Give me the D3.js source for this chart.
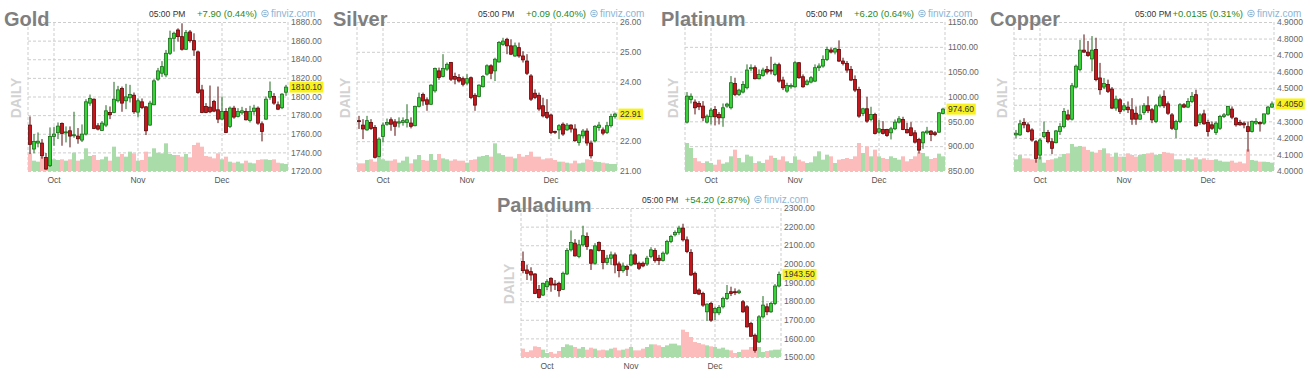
<!DOCTYPE html>
<html><head><meta charset="utf-8">
<script src="https://cdn.jsdelivr.net/npm/d3@7"></script>
<style>
body{margin:0;background:#fff;}
svg{display:block;font-family:Arial,"Liberation Sans",sans-serif;}
</style></head><body>
<svg id="chart" width="1310" height="378"></svg>
<script>
// ---------- shared ----------
const months = ["Oct", "Nov", "Dec"];
const monthStartIndex = [6, 27, 48];
const timeLabel = "05:00 PM";

// ---------- Gold ----------
const goldTicks = [1720, 1740, 1760, 1780, 1800, 1820, 1840, 1860, 1880];
const goldOpen = [1769.3,1743.6,1750.0,1750.0,1734.6,1725.7,1757.1,1761.1,1771.1,1761.1,1763.2,1758.0,1757.5,1753.2,1759.6,1792.9,1797.1,1768.6,1763.6,1769.3,1782.9,1782.9,1795.4,1808.6,1795.4,1798.6,1801.4,1783.2,1794.3,1788.9,1769.3,1791.1,1818.6,1825.0,1823.2,1846.4,1862.5,1871.4,1864.3,1850.7,1869.3,1860.0,1847.9,1807.1,1789.3,1788.6,1794.6,1785.7,1775.7,1783.9,1767.9,1787.5,1778.6,1782.5,1783.9,1774.3,1783.9,1787.5,1770.7,1775.7,1799.3,1800.0,1791.1,1787.9,1804.6];
const goldHigh = [1778.6,1759.6,1761.4,1754.3,1739.3,1766.8,1767.5,1772.1,1772.1,1767.9,1767.9,1783.6,1766.1,1770.0,1797.1,1802.1,1797.9,1771.4,1773.6,1790.7,1789.3,1815.7,1811.4,1810.7,1813.6,1812.5,1804.3,1797.9,1797.9,1789.6,1795.4,1818.6,1830.7,1838.0,1850.0,1870.7,1869.6,1873.2,1878.6,1871.4,1871.4,1867.9,1849.3,1812.5,1792.9,1811.8,1796.4,1810.7,1800.0,1787.5,1789.3,1790.0,1787.5,1788.9,1787.5,1790.0,1791.1,1789.3,1773.2,1800.0,1816.1,1803.6,1794.6,1803.6,1812.5];
const goldLow = [1738.2,1739.0,1745.4,1733.2,1721.4,1724.3,1747.1,1754.3,1747.1,1750.7,1745.4,1755.7,1749.3,1751.1,1758.2,1790.0,1765.0,1763.6,1763.2,1767.1,1775.7,1782.1,1793.6,1783.6,1786.4,1793.6,1781.4,1777.5,1786.4,1758.6,1768.6,1790.7,1816.8,1821.0,1820.7,1844.6,1848.2,1858.9,1849.3,1850.0,1857.9,1843.6,1802.9,1782.1,1782.1,1782.1,1783.2,1771.4,1775.0,1760.7,1766.1,1776.1,1777.5,1780.4,1774.3,1772.1,1780.4,1769.6,1751.8,1775.0,1796.4,1791.1,1785.4,1786.4,1800.7];
const goldClose = [1748.6,1751.8,1752.0,1736.4,1722.1,1757.1,1759.6,1768.2,1760.4,1762.0,1757.5,1758.9,1754.6,1759.6,1794.3,1797.9,1765.7,1765.0,1771.4,1784.6,1780.4,1797.1,1807.1,1792.9,1799.6,1802.1,1783.6,1795.4,1788.2,1763.2,1792.9,1816.8,1827.5,1832.1,1846.4,1862.5,1867.9,1864.3,1850.7,1868.6,1860.0,1850.0,1804.3,1782.9,1782.9,1783.6,1784.3,1775.7,1783.9,1761.4,1787.5,1777.9,1783.9,1784.6,1775.0,1783.9,1787.5,1771.4,1762.5,1797.1,1805.4,1792.9,1786.4,1802.5,1810.1];
const goldVolume = [53,31,28,43,35,35,35,33,35,31,35,55,31,35,68,45,48,33,35,43,31,73,43,51,43,58,53,31,33,58,43,68,55,53,83,51,48,48,43,51,41,78,85,73,45,43,38,53,35,43,28,25,28,23,31,25,23,33,35,35,33,35,25,23,21];

// ---------- Silver ----------
const silverTicks = [21, 22, 23, 24, 25, 26];
const silverOpen = [22.69,22.54,22.38,22.63,22.46,21.49,22.16,22.57,22.72,22.65,22.61,22.63,22.63,22.61,22.52,23.17,23.57,23.39,23.24,23.69,24.36,24.17,24.42,24.64,24.17,24.14,24.10,23.95,24.13,23.54,23.50,23.83,24.25,24.53,24.36,24.66,25.25,25.42,25.20,24.86,25.14,24.86,24.69,24.19,23.61,23.54,23.19,22.96,22.88,22.33,22.38,22.57,22.38,22.54,22.41,21.96,22.18,22.34,21.94,22.01,22.46,22.38,22.29,22.52,22.83];
const silverHigh = [22.85,22.74,22.85,22.74,22.54,22.13,22.63,22.76,22.80,22.74,22.80,22.80,23.24,22.80,23.19,23.63,23.63,23.47,23.91,24.47,24.47,24.92,24.64,24.66,24.30,24.25,24.17,24.25,24.17,23.61,23.91,24.22,24.58,24.58,24.80,25.36,25.47,25.47,25.42,25.31,25.31,25.02,24.92,24.25,23.74,23.63,23.46,23.41,22.92,22.35,22.57,22.63,22.61,22.57,22.57,22.24,22.41,22.43,22.02,22.54,22.65,22.46,22.65,22.92,22.96];
const silverLow = [22.41,22.07,22.35,22.38,21.42,21.46,21.96,22.52,22.35,22.18,22.46,22.52,22.46,22.43,22.50,23.13,23.19,23.02,23.21,23.63,24.06,24.14,24.36,24.02,23.91,23.97,23.84,23.88,23.41,23.02,23.47,23.80,24.20,24.08,24.02,24.64,25.20,24.92,24.89,24.83,24.80,24.64,24.22,23.35,23.41,23.02,22.80,22.74,22.24,22.24,22.07,22.18,22.35,22.29,21.98,21.85,22.09,21.85,21.42,21.96,22.35,22.20,22.24,22.46,22.76];
const silverClose = [22.67,22.41,22.69,22.43,21.46,22.07,22.54,22.63,22.57,22.50,22.65,22.69,22.72,22.50,23.17,23.46,23.35,23.24,23.88,24.44,24.14,24.44,24.58,24.08,24.08,24.02,23.91,24.10,23.47,23.21,23.88,24.17,24.53,24.28,24.75,25.31,25.36,25.20,24.92,25.20,24.86,24.73,24.28,23.41,23.47,23.08,22.85,22.80,22.29,22.30,22.52,22.24,22.54,22.41,22.02,22.21,22.34,21.94,21.51,22.50,22.54,22.27,22.52,22.83,22.91];
const silverVolume = [23,23,33,35,28,43,35,31,31,35,25,31,43,23,35,48,33,31,51,33,51,38,35,31,35,31,31,25,33,35,43,45,48,43,83,53,48,43,43,38,51,43,48,58,43,43,35,38,38,33,28,28,25,23,31,23,25,35,33,28,27,25,23,21,21];

// ---------- Platinum ----------
const platinumTicks = [850, 900, 950, 1000, 1050, 1100, 1150];
const platinumOpen = [948.4,994.1,988.7,986.0,980.7,948.4,959.2,973.9,963.9,957.1,980.7,977.3,1026.4,1004.2,1008.9,1017.6,1055.9,1058.0,1035.8,1042.5,1054.6,1053.2,1044.5,1064.0,1033.1,1010.9,1019.6,1019.6,1068.0,1039.8,1024.3,1029.0,1031.0,1058.0,1061.3,1074.7,1093.6,1089.5,1094.9,1071.4,1066.7,1054.6,1034.4,1014.3,965.9,975.3,953.8,963.9,928.2,933.6,933.6,926.9,935.0,948.4,953.8,933.6,936.9,926.9,913.5,906.7,926.9,930.3,926.9,928.2,965.9];
const platinumHigh = [1008.9,1006.2,994.1,990.7,990.7,963.9,977.3,980.7,968.6,986.0,987.4,1041.1,1037.8,1015.6,1031.0,1064.7,1064.7,1062.6,1054.6,1058.0,1061.3,1080.1,1068.0,1068.0,1039.8,1027.7,1026.4,1071.4,1069.4,1044.5,1034.4,1041.1,1064.7,1066.7,1082.8,1100.3,1098.3,1098.3,1113.0,1078.1,1071.4,1061.3,1042.5,1019.6,977.3,999.5,979.3,967.2,952.4,950.4,935.0,938.9,953.8,960.5,959.2,947.1,948.4,932.3,916.8,930.3,938.9,932.3,930.3,968.6,977.3];
const platinumLow = [945.7,986.0,963.9,972.6,950.4,945.7,943.7,941.7,943.7,939.0,977.3,973.9,1000.8,1000.8,1006.2,1014.3,1051.2,1034.4,1034.4,1039.8,1044.5,1044.5,1041.1,1027.7,1012.9,1007.5,1015.6,1017.6,1035.8,1017.6,1022.3,1026.4,1029.0,1051.2,1058.0,1071.4,1086.8,1084.8,1069.4,1062.6,1047.9,1031.0,1008.9,957.1,960.5,947.1,950.4,923.5,925.6,923.5,918.8,913.5,932.3,945.7,932.3,925.6,920.2,905.4,885.2,894.6,923.5,910.1,920.2,926.9,963.9];
const platinumClose = [1000.8,1000.5,977.3,979.3,957.1,960.5,972.6,959.2,957.1,977.3,984.7,1027.7,1004.2,1012.9,1024.3,1053.2,1058.0,1035.8,1044.5,1053.2,1049.2,1051.9,1064.7,1031.0,1017.6,1022.3,1022.3,1068.0,1037.8,1019.6,1031.0,1037.8,1058.0,1061.3,1074.7,1094.9,1089.5,1096.2,1071.4,1066.7,1053.2,1033.1,1012.9,960.5,975.3,950.4,963.9,925.6,935.0,925.6,921.5,935.0,948.4,955.1,933.6,926.9,921.5,908.1,892.0,928.2,930.3,923.5,923.5,967.2,974.6];
const platinumVolume = [84,69,39,29,24,29,24,19,34,22,26,44,64,39,26,49,44,24,29,24,34,46,39,34,44,29,24,44,34,29,24,26,44,59,34,49,44,24,34,36,39,36,44,84,54,74,44,64,44,39,36,44,39,34,44,29,36,44,56,54,44,36,39,52,44];

// ---------- Copper ----------
const copperTicks = [4.0, 4.1, 4.2, 4.3, 4.4, 4.5, 4.6, 4.7, 4.8, 4.9];
const copperOpen = [4.218,4.218,4.293,4.279,4.248,4.177,4.096,4.208,4.232,4.177,4.171,4.238,4.268,4.339,4.313,4.507,4.613,4.730,4.718,4.677,4.734,4.562,4.507,4.522,4.495,4.380,4.430,4.370,4.386,4.370,4.349,4.313,4.353,4.394,4.370,4.299,4.394,4.451,4.406,4.339,4.252,4.299,4.400,4.386,4.420,4.461,4.293,4.345,4.293,4.279,4.232,4.258,4.329,4.339,4.374,4.319,4.293,4.289,4.268,4.238,4.289,4.293,4.289,4.345,4.386];
const copperHigh = [4.248,4.309,4.319,4.293,4.258,4.187,4.198,4.299,4.248,4.198,4.248,4.289,4.380,4.370,4.532,4.643,4.791,4.825,4.785,4.815,4.805,4.653,4.562,4.552,4.507,4.455,4.440,4.410,4.420,4.440,4.390,4.394,4.410,4.451,4.380,4.405,4.462,4.487,4.420,4.350,4.309,4.410,4.410,4.440,4.477,4.491,4.349,4.370,4.309,4.299,4.299,4.339,4.350,4.394,4.390,4.325,4.309,4.299,4.299,4.305,4.319,4.299,4.345,4.394,4.420];
const copperLow = [4.198,4.212,4.258,4.232,4.177,4.050,4.070,4.198,4.167,4.102,4.167,4.218,4.258,4.305,4.305,4.501,4.602,4.714,4.690,4.602,4.542,4.461,4.495,4.471,4.374,4.364,4.345,4.360,4.350,4.279,4.279,4.309,4.339,4.350,4.289,4.289,4.384,4.380,4.339,4.248,4.198,4.289,4.380,4.380,4.410,4.268,4.279,4.279,4.208,4.248,4.218,4.248,4.320,4.333,4.313,4.268,4.273,4.258,4.117,4.232,4.279,4.238,4.279,4.339,4.380];
const copperClose = [4.228,4.285,4.279,4.238,4.187,4.076,4.187,4.232,4.177,4.137,4.242,4.268,4.360,4.313,4.515,4.633,4.730,4.718,4.698,4.730,4.552,4.491,4.528,4.481,4.380,4.434,4.360,4.394,4.370,4.313,4.313,4.339,4.394,4.364,4.309,4.394,4.447,4.394,4.349,4.258,4.299,4.400,4.386,4.420,4.451,4.273,4.339,4.285,4.238,4.258,4.289,4.329,4.339,4.390,4.325,4.279,4.279,4.279,4.238,4.299,4.299,4.285,4.345,4.386,4.405];
const copperVolume = [35,48,38,38,35,35,43,25,33,35,38,43,51,53,81,73,75,73,63,58,55,63,68,53,43,55,43,43,53,48,43,48,51,53,55,48,51,57,55,53,35,35,33,38,35,41,35,38,33,33,35,31,28,28,31,25,28,23,65,33,31,28,28,27,25];

// ---------- Palladium ----------
const palladiumTicks = [1500, 1600, 1700, 1800, 1900, 2000, 2100, 2200, 2300];
const palladiumOpen = [2012.3,1967.4,1958.4,1945.8,1863.1,1832.5,1877.5,1922.4,1891.9,1895.5,1863.1,1945.8,2075.3,2111.2,2039.3,2102.2,2147.2,2075.3,2003.3,2114.8,2071.7,2006.9,2030.3,2048.3,1999.7,1963.8,1985.4,1994.3,2048.3,2003.3,2003.3,1999.7,2039.3,2071.7,2030.3,2017.7,2057.3,2120.2,2156.2,2168.7,2192.1,2129.2,2060.9,1949.4,1859.5,1841.5,1742.6,1787.6,1737.2,1737.2,1769.6,1814.5,1850.5,1850.5,1845.1,1796.6,1769.6,1679.7,1616.8,1580.8,1715.6,1769.6,1742.6,1787.6,1881.1];
const palladiumHigh = [2066.3,1994.3,1981.8,1949.4,1886.5,1899.0,1917.0,1927.8,1913.4,1904.4,1958.4,2084.2,2179.5,2132.8,2129.2,2204.7,2168.7,2078.8,2111.2,2120.2,2075.3,2048.3,2066.3,2060.9,2012.3,2006.9,1994.3,2075.3,2057.3,2012.3,2012.3,2042.9,2089.6,2084.2,2048.3,2066.3,2129.2,2156.2,2179.5,2204.7,2215.5,2147.2,2078.8,1958.4,1868.5,1850.5,1787.6,1796.6,1769.6,1778.6,1823.5,1886.5,1877.5,1868.5,1863.1,1805.5,1778.6,1688.7,1625.8,1724.6,1827.1,1787.6,1796.6,1891.9,1958.4];
const palladiumLow = [1949.4,1913.4,1909.8,1837.9,1814.5,1827.1,1859.5,1850.5,1859.5,1823.5,1859.5,1940.4,2066.3,2039.3,2030.3,2093.2,2075.3,1967.4,1994.3,2066.3,1971.0,1994.3,1994.3,1949.4,1927.8,1953.0,1935.0,1988.9,1994.3,1967.4,1981.8,1988.9,2030.3,2006.9,1994.3,2012.3,2048.3,2111.2,2147.2,2156.2,2120.2,2057.3,1935.0,1837.9,1832.5,1769.6,1694.1,1688.7,1697.7,1724.6,1760.6,1805.5,1827.1,1832.5,1837.9,1737.2,1658.1,1607.8,1523.3,1575.4,1706.7,1724.6,1737.2,1778.6,1873.9];
const palladiumClose = [1963.8,1949.4,1940.4,1841.5,1819.9,1895.5,1904.4,1886.5,1886.5,1855.9,1949.4,2071.7,2114.8,2042.9,2102.2,2150.8,2093.2,2003.3,2096.8,2071.7,2006.9,2030.3,2048.3,1994.3,1963.8,1988.9,1971.0,2048.3,1999.7,1976.4,1988.9,2030.3,2075.3,2017.7,2017.7,2057.3,2120.2,2147.2,2168.7,2192.1,2129.2,2066.3,1940.4,1841.5,1837.9,1778.6,1784.0,1697.7,1760.6,1766.0,1814.5,1841.5,1841.5,1845.1,1854.1,1742.6,1661.7,1611.4,1535.9,1715.6,1778.6,1742.6,1787.6,1881.1,1943.5];
const palladiumVolume = [25,15,20,32,30,22,12,15,10,18,30,38,35,30,25,30,22,28,25,20,22,20,25,28,20,22,25,30,20,20,25,30,38,38,35,30,35,40,40,35,82,75,60,45,42,38,35,32,30,25,28,22,20,12,15,22,22,30,32,30,15,18,20,22,22];

// ---------- header texts ----------
const names = ["Gold", "Silver", "Platinum", "Copper", "Palladium"];
const changes = ["+7.90 (0.44%)", "+0.09 (0.40%)", "+6.20 (0.64%)", "+0.0135 (0.31%)", "+54.20 (2.87%)"];
const lastLabels = ["1810.10", "22.91", "974.60", "4.4050", "1943.50"];
const tickFormats = [".2f", ".2f", ".2f", ".4f", ".2f"];

const panels = [
  {O: goldOpen, H: goldHigh, L: goldLow, C: goldClose, V: goldVolume, ticks: goldTicks, ox: 0, oy: 0},
  {O: silverOpen, H: silverHigh, L: silverLow, C: silverClose, V: silverVolume, ticks: silverTicks, ox: 329, oy: 0},
  {O: platinumOpen, H: platinumHigh, L: platinumLow, C: platinumClose, V: platinumVolume, ticks: platinumTicks, ox: 657, oy: 0},
  {O: copperOpen, H: copperHigh, L: copperLow, C: copperClose, V: copperVolume, ticks: copperTicks, ox: 986, oy: 0},
  {O: palladiumOpen, H: palladiumHigh, L: palladiumLow, C: palladiumClose, V: palladiumVolume, ticks: palladiumTicks, ox: 493, oy: 186}
];

const svg = d3.select("#chart");
const PL = 28, PR = 288, PT = 22, PB = 171;
const gridColor = "#cdcdcd";
const upFill = "#36d336", upStroke = "#1d6b1d";
const dnFill = "#c8141a", dnStroke = "#5c0b0b";
const volUp = "#aadcaa", volDn = "#fcbcbc";

panels.forEach((p, k) => {
  const g = svg.append("g").attr("transform", `translate(${p.ox},${p.oy})`);
  const n = p.C.length;
  const x = d3.scaleBand().domain(d3.range(n)).range([PL, PR]);
  const bw = x.bandwidth();
  const cx = i => x(i) + bw / 2;
  const y = d3.scaleLinear().domain(d3.extent(p.ticks)).range([PB, PT]);
  const v = d3.scaleLinear().domain([0, 90]).range([0, 30]);

  // horizontal grid
  const hg = g.append("g").attr("transform", `translate(${PL},0)`)
    .call(d3.axisLeft(y).tickValues(p.ticks).tickSize(-(PR - PL)).tickFormat(""));
  hg.select(".domain").remove();
  hg.selectAll("line").attr("stroke", gridColor).attr("stroke-dasharray", "3,2");

  // vertical grid + month labels
  const xg = g.append("g").attr("transform", `translate(0,${PB})`)
    .call(d3.axisBottom(x).tickValues(monthStartIndex).tickSize(-(PB - PT)).tickPadding(6)
      .tickFormat(d => months[monthStartIndex.indexOf(d)]));
  xg.select(".domain").remove();
  xg.selectAll("line").attr("stroke", gridColor).attr("stroke-dasharray", "3,2");
  xg.selectAll("text").attr("fill", "#555").style("font-size", "8.5px").style("font-family", "Arial, 'Liberation Sans', sans-serif");

  // plot edges
  g.selectAll("line.edge").data([PL, PR]).enter().append("line").attr("class", "edge")
    .attr("x1", d => d).attr("x2", d => d).attr("y1", PT).attr("y2", PB)
    .attr("stroke", gridColor).attr("stroke-dasharray", "3,2");

  // volume
  g.append("g").selectAll("rect").data(p.V).enter().append("rect")
    .attr("x", (d, i) => x(i)).attr("width", bw)
    .attr("y", d => PB - v(d)).attr("height", d => v(d))
    .attr("fill", (d, i) => p.C[i] >= p.O[i] ? volUp : volDn);

  // candles
  const cg = g.append("g");
  d3.range(n).forEach(i => {
    const up = p.C[i] >= p.O[i];
    const st = up ? upStroke : dnStroke;
    cg.append("line").attr("x1", cx(i)).attr("x2", cx(i))
      .attr("y1", y(p.H[i])).attr("y2", y(p.L[i]))
      .attr("stroke", st).attr("stroke-width", 1);
    const top = y(Math.max(p.O[i], p.C[i]));
    const h = Math.max(1, Math.abs(y(p.O[i]) - y(p.C[i])));
    cg.append("rect").attr("x", cx(i) - 1.5).attr("width", 3)
      .attr("y", top).attr("height", h)
      .attr("fill", up ? upFill : dnFill).attr("stroke", st).attr("stroke-width", 0.8);
  });

  // price labels
  const ya = g.append("g").attr("transform", `translate(${PR},0)`)
    .call(d3.axisRight(y).tickValues(p.ticks).tickSize(0).tickPadding(3).tickFormat(d3.format(tickFormats[k])));
  ya.select(".domain").remove();
  ya.selectAll("text").attr("fill", "#666").style("font-size", "8.5px").style("font-family", "Arial, 'Liberation Sans', sans-serif");

  // last price label
  const lastVal = p.C[n - 1];
  const lt = g.append("text").attr("x", PR + 3).attr("y", y(lastVal)).attr("dy", "0.35em")
    .attr("fill", "#333").style("font-size", "8.5px").text(lastLabels[k]);
  const bb = lt.node().getBBox();
  g.insert("rect", () => lt.node()).attr("x", bb.x - 1.5).attr("y", y(lastVal) - 5.5)
    .attr("width", bb.width + 3).attr("height", 11).attr("fill", "#f7f21f");

  // title
  g.append("text").attr("x", 4).attr("y", 26).attr("fill", "#7f7f7f")
    .style("font-size", "20px").style("font-weight", "bold").text(names[k]);
  // DAILY
  g.append("text").attr("transform", "translate(21,98) rotate(-90)").attr("text-anchor", "middle")
    .attr("fill", "#d2d2d2").style("font-size", "14px").style("font-weight", "bold").text("DAILY");
  // header
  g.append("text").attr("x", 149).attr("y", 17).attr("fill", "#333").style("font-size", "8.5px").text(timeLabel);
  g.append("text").attr("x", 257).attr("y", 17).attr("text-anchor", "end").attr("fill", "#1f8a1f")
    .style("font-size", "9.5px").text(changes[k]);
  const ic = g.append("g").attr("transform", "translate(265,13.5)");
  ic.append("circle").attr("r", 3.3).attr("fill", "none").attr("stroke", "#8db6d6").attr("stroke-width", 1);
  ic.append("line").attr("x1", -1.6).attr("x2", 1.6).attr("y1", -0.8).attr("y2", -0.8).attr("stroke", "#8db6d6");
  ic.append("line").attr("x1", -1.6).attr("x2", 1.6).attr("y1", 1).attr("y2", 1).attr("stroke", "#8db6d6");
  g.append("text").attr("x", 271).attr("y", 17).attr("fill", "#8db6d6").style("font-size", "10px").text("finviz.com");
});
</script>
</body></html>
